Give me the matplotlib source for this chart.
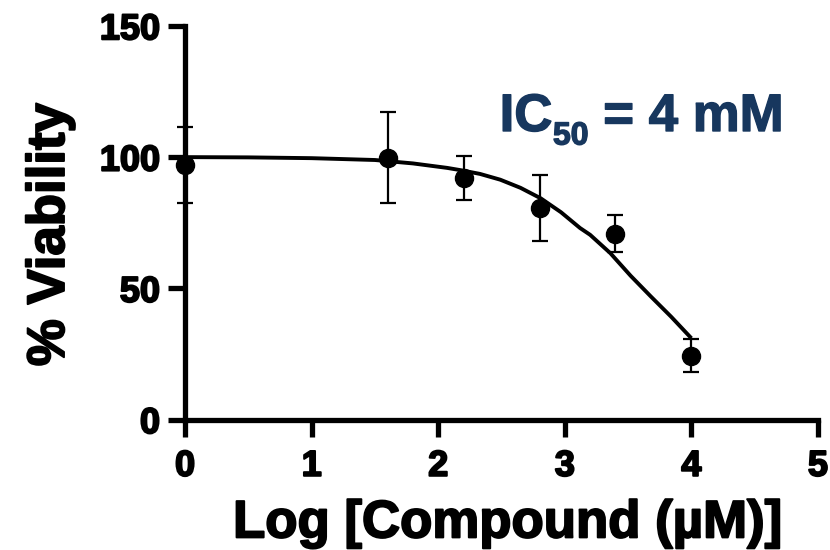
import matplotlib
matplotlib.use("Agg")
import matplotlib.pyplot as plt
import matplotlib.patheffects as pe

# measured points (log concentration, % viability, SD)
log_conc = [0.0, 1.6, 2.2, 2.8, 3.4, 4.0]
viability = [97.0, 99.8, 91.9, 80.7, 70.8, 24.4]
sd = [14.5, 17.3, 8.4, 12.6, 7.0, 6.2]

# fitted curve
fit_x = [0.0, 0.5, 1.0, 1.5, 1.8, 2.07, 2.18, 2.33, 2.49, 2.65, 2.81, 2.97,
         3.12, 3.20, 3.36, 3.52, 3.68, 3.84, 4.0]
fit_y = [100.0, 99.9, 99.6, 98.9, 97.6, 95.9, 95.0, 93.6, 91.4, 88.3, 84.3, 79.0,
         73.0, 70.4, 63.4, 54.8, 46.9, 39.2, 31.0]

xticks = [0, 1, 2, 3, 4, 5]
yticks = [0, 50, 100, 150]

plt.rcParams['font.family'] = ['Liberation Sans', 'DejaVu Sans']
plt.rcParams['font.weight'] = 'bold'

heavy = [pe.withStroke(linewidth=1.4, foreground="black")]
navy = "#17375E"
navy_fx = [pe.withStroke(linewidth=1.0, foreground=navy)]

fig = plt.figure(figsize=(8.3, 5.5), dpi=100)
ax = fig.add_axes([0.223, 0.237, 0.7625, 0.716])

ax.plot(fit_x, fit_y, color="black", lw=2.8, solid_capstyle="butt", zorder=3)
ax.errorbar(log_conc, viability, yerr=sd, fmt="o", color="black", ms=13,
            elinewidth=1.6, capsize=6, capthick=1.6, clip_on=False, zorder=4)

ax.set_xlim(0, 5)
ax.set_ylim(0, 150)
ax.set_xticks(xticks)
ax.set_yticks(yticks)
for side in ["top", "right"]:
    ax.spines[side].set_visible(False)
for side in ["left", "bottom"]:
    ax.spines[side].set_linewidth(3.8)
ax.tick_params(axis="both", which="major", direction="out", length=12, width=3.8,
               labelsize=26)
ax.tick_params(axis="x", pad=9)
ax.tick_params(axis="y", pad=6)
for lab in ax.get_xticklabels() + ax.get_yticklabels():
    lab.set_path_effects(heavy)

ax.set_xlabel("Log [Compound (µM)]", fontsize=38, fontweight="bold",
              path_effects=heavy)
ax.set_ylabel("% Viability", fontsize=38, fontweight="bold",
              path_effects=heavy)
ax.xaxis.set_label_coords(0.509, -0.2)
ax.yaxis.set_label_coords(-0.174, 0.469)

# IC50 annotation: main text, lowered subscript, rest on the same baseline
t1 = ax.text(0.497, 0.733, "IC", transform=ax.transAxes, fontsize=38,
             fontweight="bold", color=navy, va="baseline", ha="left",
             path_effects=navy_fx)
t2 = ax.annotate("50", xy=(1, 0), xycoords=t1, xytext=(0.5, -1.8),
                 textcoords="offset points", fontsize=23, fontweight="bold",
                 color=navy, va="baseline", ha="left", path_effects=navy_fx)
ax.annotate(" = 4 mM", xy=(1, 0), xycoords=(t2, t1), fontsize=38,
            fontweight="bold", color=navy, va="bottom", ha="left",
            path_effects=navy_fx)

fig.savefig("out.png", dpi=100)
